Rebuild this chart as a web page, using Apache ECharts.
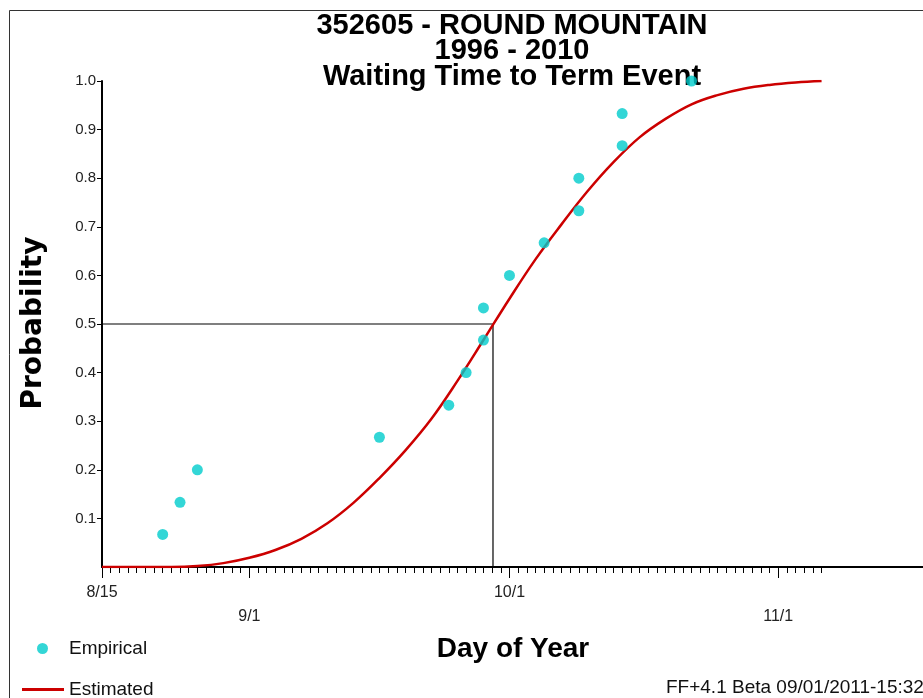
<!DOCTYPE html>
<html>
<head>
<meta charset="utf-8">
<script src="https://cdn.jsdelivr.net/npm/echarts@6/dist/echarts.min.js"></script>
<style>
  html, body { margin: 0; padding: 0; background: #fff; }
  #chart { width: 923px; height: 698px; }
</style>
</head>
<body>
<div id="chart"></div>
<script>
// Day-of-year values (non-leap year): 8/15 = 227, 9/1 = 244, 10/1 = 274, 11/1 = 305
const monthTickDays = [227, 244, 274, 305];
const monthTickLabels = ['8/15', '9/1', '10/1', '11/1'];
const upperRowLabelDays = [227, 274];
const lowerRowLabelDays = [244, 305];
const firstDailyTick = 227;
const lastDailyTick = 310;

// Empirical waiting-time probabilities (15 seasons, 1996-2010)
const empiricalDays = [234, 236, 238, 259, 267, 269, 271, 271, 274, 278, 282, 282, 287, 287, 295];
const empiricalProb = [0.067, 0.133, 0.2, 0.267, 0.333, 0.4, 0.467, 0.533, 0.6, 0.667, 0.733, 0.8, 0.867, 0.933, 1.0];

// Fitted (estimated) cumulative probability curve
const estimatedDays = [227, 232, 235, 238, 241, 244, 247, 250, 253, 256, 259, 262, 265, 268, 271, 274, 277, 280, 283, 286, 289, 292, 295, 298, 301, 304, 307, 310];
const estimatedProb = [0, 0, 0, 0.002, 0.008, 0.019, 0.035, 0.058, 0.090, 0.132, 0.183, 0.240, 0.305, 0.383, 0.467, 0.552, 0.633, 0.705, 0.773, 0.833, 0.884, 0.922, 0.952, 0.971, 0.984, 0.992, 0.997, 1.0];

// Day when the estimated curve crosses 0.5
const medianDay = 272.1;
const medianProb = 0.5;

const yTicks = [0.1, 0.2, 0.3, 0.4, 0.5, 0.6, 0.7, 0.8, 0.9, 1.0];

const dailyTicks = [];
for (let d = firstDailyTick; d <= lastDailyTick; d++) dailyTicks.push(d);

const labelFor = v => monthTickLabels[monthTickDays.indexOf(v)] || '';

const chart = echarts.init(document.getElementById('chart'), null, { renderer: 'canvas' });

const axisFont = '"Liberation Sans", Arial, sans-serif';
// the axis runs off the right edge of the page
const xMin = 227, xMax = 321.7;

chart.setOption({
  animation: false,
  backgroundColor: '#fff',
  grid: { left: 102, top: 81, right: 0, height: 486, containLabel: false },
  xAxis: [
    {
      type: 'value', min: xMin, max: xMax, gridIndex: 0,
      axisLine: { show: true, lineStyle: { color: '#000', width: 2 } },
      axisTick: { show: true, customValues: dailyTicks, length: 6, lineStyle: { color: '#000', width: 1 } },
      axisLabel: { show: true, customValues: upperRowLabelDays, formatter: labelFor, margin: 18,
        fontFamily: axisFont, fontSize: 16, color: '#222' },
      splitLine: { show: false }
    },
    {
      type: 'value', min: xMin, max: xMax, gridIndex: 0, position: 'bottom',
      axisLine: { show: false },
      axisTick: { show: true, customValues: monthTickDays, length: 11, lineStyle: { color: '#000', width: 1 } },
      axisLabel: { show: true, customValues: lowerRowLabelDays, formatter: labelFor, margin: 42,
        fontFamily: axisFont, fontSize: 16, color: '#222' },
      splitLine: { show: false }
    }
  ],
  yAxis: {
    type: 'value', min: 0, max: 1, interval: 0.1,
    axisLine: { show: true, lineStyle: { color: '#000', width: 2 } },
    axisTick: { show: true, customValues: yTicks, length: 5, lineStyle: { color: '#000', width: 1 } },
    axisLabel: { customValues: yTicks, formatter: v => v.toFixed(1), margin: 6,
      fontFamily: axisFont, fontSize: 15, color: '#222' },
    splitLine: { show: false }
  },
  legend: [
    {
      left: 32, top: 634, itemWidth: 43, itemHeight: 11,
      textStyle: { fontFamily: axisFont, fontSize: 19, color: '#111' },
      data: [{ name: 'Empirical', icon: 'circle' }]
    },
    {
      left: 17, top: 675, itemWidth: 42, itemHeight: 3,
      textStyle: { fontFamily: axisFont, fontSize: 19, color: '#111' },
      data: [{ name: 'Estimated', icon: 'rect' }]
    }
  ],
  series: [
    {
      name: 'Median', type: 'line', xAxisIndex: 0, silent: true, z: 1,
      symbol: 'none',
      lineStyle: { color: '#000', width: 1.2 },
      data: [[xMin, medianProb], [medianDay, medianProb], [medianDay, 0]]
    },
    {
      name: 'Estimated', type: 'line', xAxisIndex: 0, z: 3,
      symbol: 'none', smooth: 0.4,
      lineStyle: { color: '#cc0000', width: 2.5 },
      itemStyle: { color: '#cc0000' },
      data: estimatedDays.map((d, i) => [d, estimatedProb[i]])
    },
    {
      name: 'Empirical', type: 'scatter', xAxisIndex: 0, z: 4,
      symbol: 'circle', symbolSize: 11,
      itemStyle: { color: '#00cccc' },
      data: empiricalDays.map((d, i) => [d, empiricalProb[i]])
    }
  ],
  graphic: [
    { type: 'rect', silent: true, z: 0,
      shape: { x: 9.5, y: 10.5, width: 2000, height: 2000 },
      style: { fill: 'none', stroke: '#333', lineWidth: 1 } },
    { type: 'text', x: 512, y: 26, style: { text: '352605 - ROUND MOUNTAIN',
      font: 'bold 29px "Liberation Sans", Arial, sans-serif', fill: '#000', textAlign: 'center', textVerticalAlign: 'middle' } },
    { type: 'text', x: 512, y: 51, style: { text: '1996 - 2010',
      font: 'bold 29px "Liberation Sans", Arial, sans-serif', fill: '#000', textAlign: 'center', textVerticalAlign: 'middle' } },
    { type: 'text', x: 512, y: 77, style: { text: 'Waiting Time to Term Event',
      font: 'bold 29px "Liberation Sans", Arial, sans-serif', fill: '#000', textAlign: 'center', textVerticalAlign: 'middle' } },
    { type: 'text', x: 34, y: 323, rotation: Math.PI / 2, style: { text: 'Probability',
      font: 'bold 28px "DejaVu Sans", Verdana, sans-serif', fill: '#000', textAlign: 'center', textVerticalAlign: 'middle' } },
    { type: 'text', x: 513, y: 649, style: { text: 'Day of Year',
      font: 'bold 28px "Liberation Sans", Arial, sans-serif', fill: '#000', textAlign: 'center', textVerticalAlign: 'middle' } },
    { type: 'text', x: 666, y: 688, style: { text: 'FF+4.1 Beta 09/01/2011-15:32',
      font: '19px "Liberation Sans", Arial, sans-serif', fill: '#111', textAlign: 'left', textVerticalAlign: 'middle' } }
  ]
});
</script>
</body>
</html>
